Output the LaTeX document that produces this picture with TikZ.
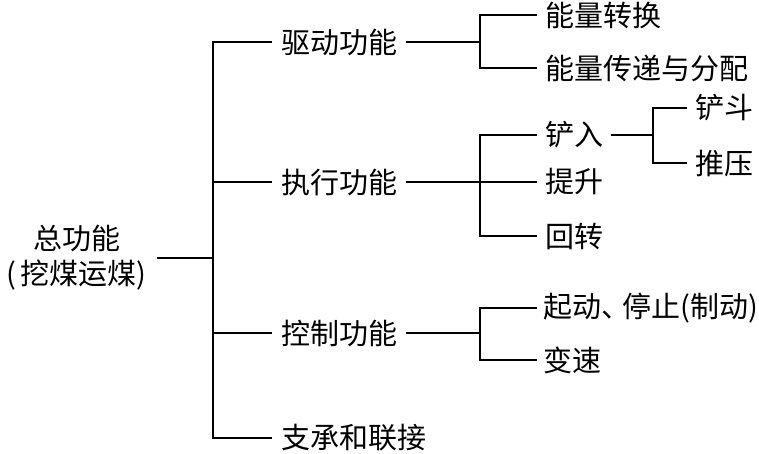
\documentclass[tikz,border=0pt]{standalone}
\usepackage{fontspec}
\setmainfont{Noto Sans CJK SC}

\begin{document}
\begin{tikzpicture}[
    x=1pt, y=1pt,
    rootnode/.style={anchor=east, align=center, inner xsep=10pt, inner ysep=0pt, font=\fontsize{29}{35}\selectfont},
    funcnode/.style={anchor=west, inner xsep=9pt, inner ysep=0pt, font=\fontsize{29}{34}\selectfont},
    subnode/.style={anchor=west, inner xsep=8pt, inner ysep=0pt, font=\fontsize{29}{34}\selectfont},
    branch/.style={line width=1.3pt, black}
]
\useasboundingbox (0,0) rectangle (759,-453);

% ===== Root =====
\node[rootnode] (total) at (157,-258) {总功能\\(\,挖煤运煤)};
\coordinate (j0) at (213,-258);
\draw[branch] (total.east) -- (j0);

% ===== First level =====
\node[funcnode] (drive) at (272,-42) {驱动功能};
\node[funcnode] (exec) at (272,-182) {执行功能};
\node[funcnode] (ctrl) at (272,-333) {控制功能};
\node[funcnode] (support) at (272,-438) {支承和联接};
\draw[branch] (j0) |- (drive.west);
\draw[branch] (j0) |- (exec.west);
\draw[branch] (j0) |- (ctrl.west);
\draw[branch] (j0) |- (support.west);

% ===== Drive =====
\coordinate (j1) at (480,-42);
\node[subnode] (convert) at (537,-15) {能量转换};
\node[subnode] (transfer) at (537,-68) {能量传递与分配};
\draw[branch] (drive.east) -- (j1);
\draw[branch] (j1) |- (convert.west);
\draw[branch] (j1) |- (transfer.west);

% ===== Execution =====
\coordinate (j2) at (480,-182);
\node[subnode] (dig) at (537,-135) {铲入};
\node[subnode] (lift) at (537,-182) {提升};
\node[subnode] (swing) at (537,-236) {回转};
\draw[branch] (exec.east) -- (j2);
\draw[branch] (j2) |- (dig.west);
\draw[branch] (j2) |- (lift.west);
\draw[branch] (j2) |- (swing.west);

% dig branch
\coordinate (j4) at (653,-135);
\node[subnode] (bucket) at (687,-108) {铲斗};
\node[subnode] (crowd) at (687,-163) {推压};
\draw[branch] (dig.east) -- (j4);
\draw[branch] (j4) |- (bucket.west);
\draw[branch] (j4) |- (crowd.west);

% ===== Control =====
\coordinate (j3) at (480,-333);
\node[subnode, inner xsep=6pt] (startstop) at (537,-308) {起动、\kern-8pt停止(制动)};
\node[subnode, inner xsep=6pt] (speed) at (537,-360) {变速};
\draw[branch] (ctrl.east) -- (j3);
\draw[branch] (j3) |- (startstop.west);
\draw[branch] (j3) |- (speed.west);

\end{tikzpicture}
\end{document}
